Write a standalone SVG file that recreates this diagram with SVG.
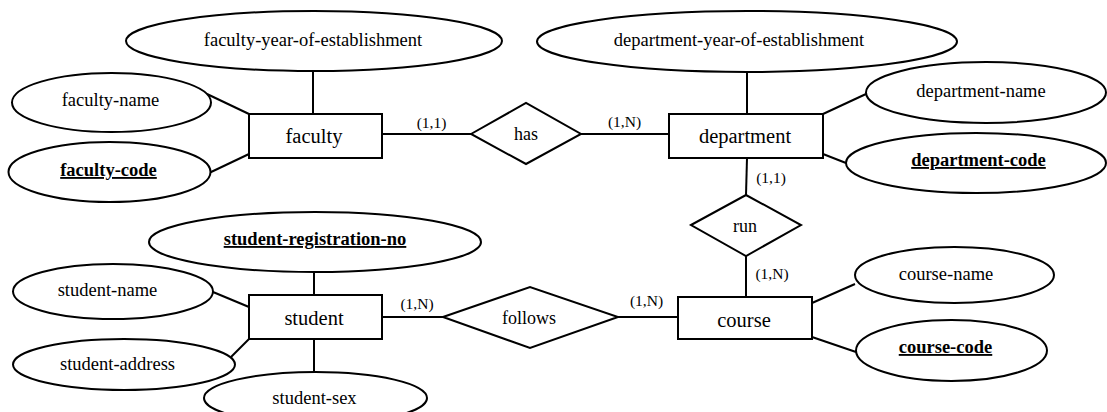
<svg xmlns="http://www.w3.org/2000/svg" width="1107" height="412" viewBox="0 0 1107 412" font-family="Liberation Serif, Times New Roman, serif">
<style>
.s{fill:#fff;stroke:#000;stroke-width:2}
.c line{stroke:#000;stroke-width:2}
text{font-family:'Liberation Serif','Times New Roman',serif;fill:#000;text-anchor:middle}
.a{font-size:18.5px}
.k{font-size:18.5px;font-weight:bold;text-decoration:underline}
.e{font-size:20.5px}
.r{font-size:18px}
.l{font-size:15.5px}
</style>
<rect width="1107" height="412" fill="#fff"/>
<g class="c" id="connectors">
<line x1="313" y1="71" x2="313" y2="114"/>
<line x1="207" y1="94" x2="249" y2="114"/>
<line x1="209" y1="173" x2="249" y2="154"/>
<line x1="382" y1="134" x2="471" y2="134"/>
<line x1="581" y1="134" x2="669" y2="134"/>
<line x1="747" y1="72" x2="747" y2="114"/>
<line x1="823" y1="114" x2="866" y2="94"/>
<line x1="823" y1="154" x2="846" y2="163"/>
<line x1="747" y1="158" x2="746" y2="195"/>
<line x1="746" y1="256" x2="746" y2="297"/>
<line x1="812" y1="303" x2="855" y2="284"/>
<line x1="812" y1="337" x2="856" y2="352"/>
<line x1="678" y1="317" x2="618" y2="317"/>
<line x1="443" y1="317" x2="382" y2="317"/>
<line x1="314" y1="272" x2="314" y2="295"/>
<line x1="213" y1="292" x2="249" y2="307"/>
<line x1="231" y1="357" x2="249" y2="339"/>
<line x1="314" y1="339" x2="314" y2="372"/>
</g>
<g id="labels">
<text class="l" x="431.5" y="128">(1,1)</text>
<text class="l" x="624.5" y="127">(1,N)</text>
<text class="l" x="771" y="183">(1,1)</text>
<text class="l" x="772" y="279">(1,N)</text>
<text class="l" x="417" y="309">(1,N)</text>
<text class="l" x="646.5" y="306">(1,N)</text>
</g>
<g id="faculty-year-of-establishment"><ellipse class="s" cx="314" cy="41" rx="188" ry="30"/><text class="a" x="313" y="46">faculty-year-of-establishment</text></g>
<g id="department-year-of-establishment"><ellipse class="s" cx="747" cy="41.5" rx="210" ry="30.5"/><text class="a" x="739" y="46">department-year-of-establishment</text></g>
<g id="faculty-name"><ellipse class="s" cx="111.5" cy="102.5" rx="99.5" ry="29.5"/><text class="a" x="110.5" y="106">faculty-name</text></g>
<g id="faculty-code"><ellipse class="s" cx="109.5" cy="172" rx="101" ry="30"/><text class="k" x="108.5" y="176">faculty-code</text></g>
<g id="faculty"><rect class="s" x="249" y="114" width="133" height="44"/><text class="e" x="314" y="143">faculty</text></g>
<g id="has"><polygon class="s" points="471,134 526,103 581,134 526,164"/><text class="r" x="526" y="140">has</text></g>
<g id="department"><rect class="s" x="669" y="114" width="154" height="44"/><text class="e" x="745" y="143">department</text></g>
<g id="department-name"><ellipse class="s" cx="986" cy="92.5" rx="120" ry="30.5"/><text class="a" x="981" y="97">department-name</text></g>
<g id="department-code"><ellipse class="s" cx="976" cy="163" rx="130" ry="30"/><text class="k" x="978.5" y="166">department-code</text></g>
<g id="run"><polygon class="s" points="691,225 746,195 801,225 746,256"/><text class="r" x="745" y="232">run</text></g>
<g id="course"><rect class="s" x="678" y="297" width="134" height="42"/><text class="e" x="744" y="327">course</text></g>
<g id="course-name"><ellipse class="s" cx="954.5" cy="275" rx="99.5" ry="28"/><text class="a" x="946" y="280">course-name</text></g>
<g id="course-code"><ellipse class="s" cx="951.5" cy="350.5" rx="95.5" ry="30.5"/><text class="k" x="945.5" y="353">course-code</text></g>
<g id="follows"><polygon class="s" points="443,317 530,287 618,317 530,348"/><text class="r" x="529" y="324">follows</text></g>
<g id="student"><rect class="s" x="249" y="295" width="133" height="44"/><text class="e" x="314" y="325">student</text></g>
<g id="student-registration-no"><ellipse class="s" cx="315" cy="242" rx="166" ry="30"/><text class="k" x="315" y="245">student-registration-no</text></g>
<g id="student-name"><ellipse class="s" cx="113" cy="291.5" rx="100" ry="27.5"/><text class="a" x="107.5" y="296">student-name</text></g>
<g id="student-address"><ellipse class="s" cx="124" cy="364.5" rx="111" ry="25.5"/><text class="a" x="117.5" y="370">student-address</text></g>
<g id="student-sex"><ellipse class="s" cx="315.5" cy="398" rx="111.5" ry="26"/><text class="a" x="314.5" y="404">student-sex</text></g>
</svg>
